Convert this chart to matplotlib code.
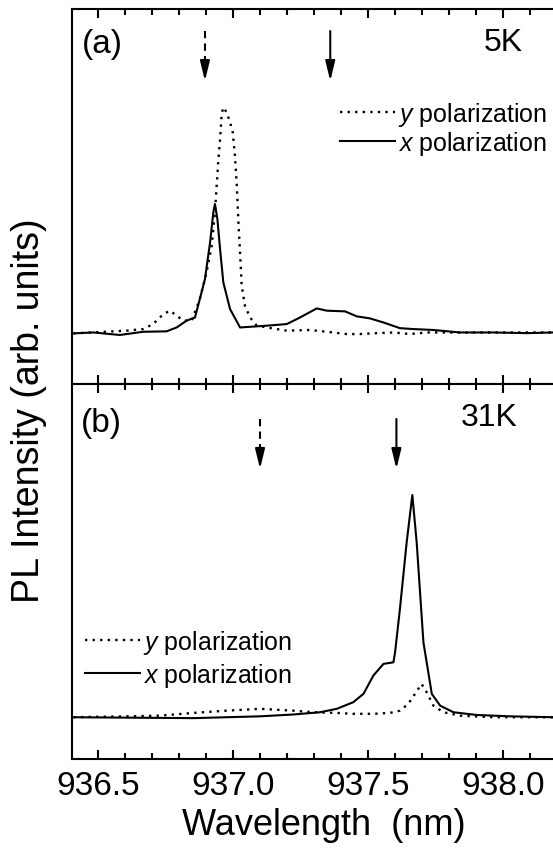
import matplotlib
matplotlib.use("Agg")
import matplotlib.pyplot as plt
from matplotlib.ticker import MultipleLocator

plt.rcParams['font.family'] = ['Liberation Sans', 'DejaVu Sans']
plt.rcParams['mathtext.fontset'] = 'custom'
plt.rcParams['mathtext.it'] = 'Liberation Sans:italic'
plt.rcParams['mathtext.rm'] = 'Liberation Sans'

# (a) 5K
wl_a_x = [936.409, 936.483, 936.544, 936.581, 936.667, 936.754, 936.791, 936.828, 936.859,
          936.877, 936.896, 936.915, 936.927, 936.933, 936.942, 936.952, 936.964, 936.989,
          937.026, 937.125, 937.199, 937.248, 937.310, 937.347, 937.415, 937.458, 937.507,
          937.557, 937.618, 937.668, 937.742, 937.840, 937.964, 938.087, 938.185, 938.26]
int_a_x = [0.003, 0.007, 0.000, -0.004, 0.010, 0.012, 0.029, 0.059, 0.073,
           0.154, 0.242, 0.404, 0.536, 0.573, 0.507, 0.374, 0.228, 0.110,
           0.029, 0.037, 0.044, 0.073, 0.113, 0.103, 0.100, 0.078, 0.069,
           0.051, 0.026, 0.022, 0.018, 0.007, 0.007, 0.004, 0.007, 0.005]

wl_a_y = [936.409, 936.606, 936.667, 936.704, 936.742, 936.767, 936.791, 936.816, 936.847,
          936.877, 936.902, 936.921, 936.933, 936.945, 936.952, 936.958, 936.964, 936.976,
          936.989, 936.999, 937.007, 937.014, 937.020, 937.026, 937.032, 937.044, 937.063,
          937.088, 937.125, 937.199, 937.285, 937.347, 937.421, 937.470, 937.532, 937.594,
          937.655, 937.717, 937.840, 938.185, 938.26]
int_a_y = [0.003, 0.015, 0.022, 0.044, 0.088, 0.103, 0.081, 0.059, 0.059,
           0.154, 0.272, 0.389, 0.536, 0.756, 0.859, 0.969, 0.999, 0.977,
           0.933, 0.888, 0.786, 0.653, 0.492, 0.360, 0.213, 0.125, 0.073,
           0.037, 0.029, 0.015, 0.018, 0.010, 0.0, 0.0, 0.004, 0.007,
           0.0, 0.007, 0.007, 0.007, 0.007]

# (b) 31K
wl_b_x = [936.404, 936.853, 937.100, 937.223, 937.322, 937.384, 937.445, 937.483, 937.520,
          937.557, 937.594, 937.600, 937.618, 937.643, 937.664, 937.680, 937.705, 937.736,
          937.767, 937.816, 937.902, 938.026, 938.185, 938.26]
int_b_x = [0.0, -0.004, 0.004, 0.012, 0.022, 0.037, 0.066, 0.103, 0.184,
           0.235, 0.242, 0.286, 0.477, 0.771, 0.979, 0.771, 0.330, 0.103,
           0.051, 0.022, 0.010, 0.004, 0.0, 0.0]

wl_b_y = [936.409, 936.606, 936.730, 936.853, 936.976, 937.100, 937.223, 937.297, 937.384,
          937.445, 937.520, 937.581, 937.618, 937.649, 937.674, 937.698, 937.717, 937.742,
          937.779, 937.840, 937.964, 938.185, 938.26]
int_b_y = [0.0, 0.004, 0.007, 0.019, 0.029, 0.037, 0.029, 0.022, 0.019,
           0.015, 0.015, 0.019, 0.029, 0.059, 0.103, 0.147, 0.110, 0.051,
           0.022, 0.007, 0.0, 0.0, 0.0]

# arrow positions (dashed, solid)
arrows_a = [936.896, 937.360]
arrows_b = [937.100, 937.605]

W, H = 553, 853
fig = plt.figure(figsize=(W / 100, H / 100), dpi=100)
left = 72 / W
width = (576 - 72) / W
ax_a = fig.add_axes([left, 1 - 385 / H, width, 375 / H])
ax_b = fig.add_axes([left, 1 - 760 / H, width, 375 / H])

dot = (0, (1, 2.2))
for ax in (ax_a, ax_b):
    ax.set_xlim(936.4037, 938.27)
    ax.xaxis.set_major_locator(MultipleLocator(0.5))
    ax.xaxis.set_minor_locator(MultipleLocator(0.1))
    ax.tick_params(axis='x', which='both', direction='in', top=True, bottom=True,
                   width=1.5, labelsize=24, pad=8)
    ax.tick_params(axis='x', which='major', length=6.5)
    ax.tick_params(axis='x', which='minor', length=4)
    ax.set_yticks([])
    for s in ax.spines.values():
        s.set_linewidth(1.5)

ax_a.set_ylim(-0.220, 1.432)
ax_b.set_ylim(-0.184, 1.468)
ax_a.tick_params(axis='x', labelbottom=False)

ax_a.plot(wl_a_y, int_a_y, color='black', lw=1.7, ls=dot, label='$y$ polarization')
ax_a.plot(wl_a_x, int_a_x, color='black', lw=1.5, label='$x$ polarization')
ax_b.plot(wl_b_y, int_b_y, color='black', lw=1.7, ls=dot, label='$y$ polarization')
ax_b.plot(wl_b_x, int_b_x, color='black', lw=1.5, label='$x$ polarization')

head = '-|>,head_length=0.7,head_width=0.17'

def arrow(ax, x, y0, y1, dashed):
    if dashed:
        ax.plot([x, x], [y0, y1 + 0.068], color='black', lw=1.5, ls=(0, (3.5, 2.5)))
        ax.annotate('', xy=(x, y1), xytext=(x, y1 + 0.075),
                    arrowprops=dict(arrowstyle=head, color='black', lw=1.5,
                                    mutation_scale=17, shrinkA=0, shrinkB=0))
    else:
        ax.annotate('', xy=(x, y1), xytext=(x, y0),
                    arrowprops=dict(arrowstyle=head, color='black', lw=1.5,
                                    mutation_scale=17, shrinkA=0, shrinkB=0))

arrow(ax_a, arrows_a[0], 1.335, 1.115, True)
arrow(ax_a, arrows_a[1], 1.335, 1.115, False)
arrow(ax_b, arrows_b[0], 1.314, 1.094, True)
arrow(ax_b, arrows_b[1], 1.314, 1.094, False)

ax_a.text(0.020, 0.909, '(a)', transform=ax_a.transAxes, fontsize=24, va='center', ha='left')
ax_a.text(0.895, 0.912, '5K', transform=ax_a.transAxes, fontsize=23, va='center', ha='right')
ax_b.text(0.018, 0.896, '(b)', transform=ax_b.transAxes, fontsize=24, va='center', ha='left')
ax_b.text(0.885, 0.912, '31K', transform=ax_b.transAxes, fontsize=23, va='center', ha='right')

leg_kw = dict(frameon=False, fontsize=18, handlelength=2.2, handletextpad=0.1,
              borderpad=0, borderaxespad=0, loc='upper left')
ax_a.legend(bbox_to_anchor=(0.532, 0.758), labelspacing=0.05, **leg_kw)
ax_b.legend(bbox_to_anchor=(0.026, 0.350), labelspacing=0.2, **leg_kw)

ax_b.set_xlabel('Wavelength  (nm)', fontsize=26, labelpad=4)
fig.text(29 / W, 1 - 411 / H, 'PL Intensity (arb. units)', rotation=90,
         fontsize=27, va='center', ha='center')

fig.savefig('out.png', dpi=100)
